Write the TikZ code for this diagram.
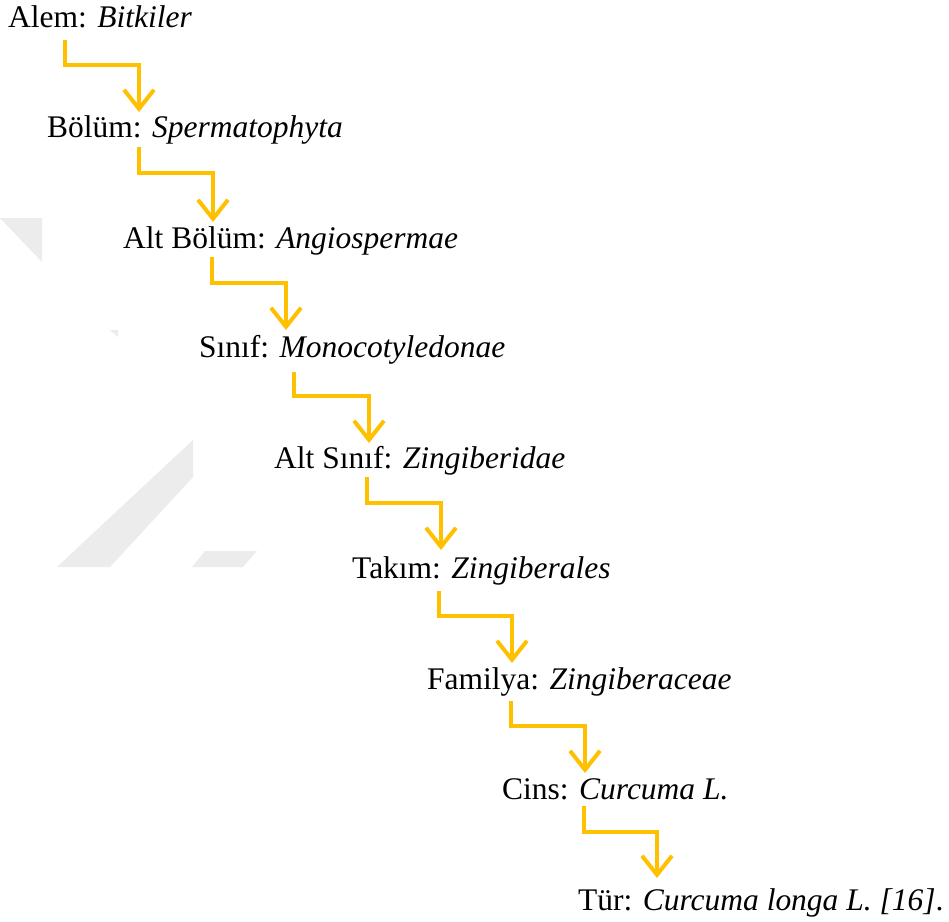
\documentclass[tikz,border=0pt]{standalone}
\usepackage{fontspec}
\setmainfont{Liberation Serif}
\usetikzlibrary{arrows.meta}
\definecolor{conncol}{RGB}{255,192,0}
\definecolor{wmcol}{RGB}{236,236,236}
\tikzset{
  taxon/.style={anchor=base west, inner sep=0pt, font=\fontsize{31.6}{38}\selectfont, text=black},
  conn/.style={draw=conncol, line width=4bp, line join=miter,
    -{Straight Barb[length=19bp, width=30bp, line width=4bp]}},
  wmark/.style={fill=wmcol, draw=none}
}
\begin{document}
\begin{tikzpicture}[x=1bp, y=-1bp]
\useasboundingbox (0,0) rectangle (949,922);
\fill[white] (0,0) rectangle (949,922);
% faint watermark shapes
\path[wmark] (0,218) -- (42,218) -- (42,262) -- cycle;
\path[wmark] (57,567) -- (193,440) -- (193,477) -- (110,567) -- cycle;
\path[wmark] (192,567) -- (205,551) -- (257,551) -- (243,567) -- cycle;
\path[wmark] (110,330) -- (118,330) -- (118,337) -- cycle;
% taxa
\node[taxon] (a) at (8,27) {Alem: \textit{Bitkiler}};
\node[taxon] (b) at (47,137) {Bölüm: \textit{Spermatophyta}};
\node[taxon] (c) at (123,248) {Alt Bölüm: \textit{Angiospermae}};
\node[taxon] (d) at (199,357) {Sınıf: \textit{Monocotyledonae}};
\node[taxon] (e) at (274,468) {Alt Sınıf: \textit{Zingiberidae}};
\node[taxon] (f) at (352,578) {Takım: \textit{Zingiberales}};
\node[taxon] (g) at (427,689) {Familya: \textit{Zingiberaceae}};
\node[taxon] (h) at (502,799) {Cins: \textit{Curcuma L.}};
\node[taxon] (i) at (578,910) {Tür: \textit{Curcuma longa L. [16]}.};
% connectors
\draw[conn] ([shift={(57,13)}]a.base west) -- ++(0,25) -| ([shift={(92,-25)}]b.base west);
\draw[conn] ([shift={(92,10)}]b.base west) -- ++(0,26) -| ([shift={(90,-26)}]c.base west);
\draw[conn] ([shift={(89,9)}]c.base west) -- ++(0,26) -| ([shift={(87,-27)}]d.base west);
\draw[conn] ([shift={(95,15)}]d.base west) -- ++(0,24) -| ([shift={(95,-25)}]e.base west);
\draw[conn] ([shift={(93,9)}]e.base west) -- ++(0,26) -| ([shift={(89,-28)}]f.base west);
\draw[conn] ([shift={(87,13)}]f.base west) -- ++(0,25) -| ([shift={(85,-26)}]g.base west);
\draw[conn] ([shift={(84,12)}]g.base west) -- ++(0,25) -| ([shift={(83,-26)}]h.base west);
\draw[conn] ([shift={(82,7)}]h.base west) -- ++(0,26) -| ([shift={(79,-32)}]i.base west);
\end{tikzpicture}
\end{document}
